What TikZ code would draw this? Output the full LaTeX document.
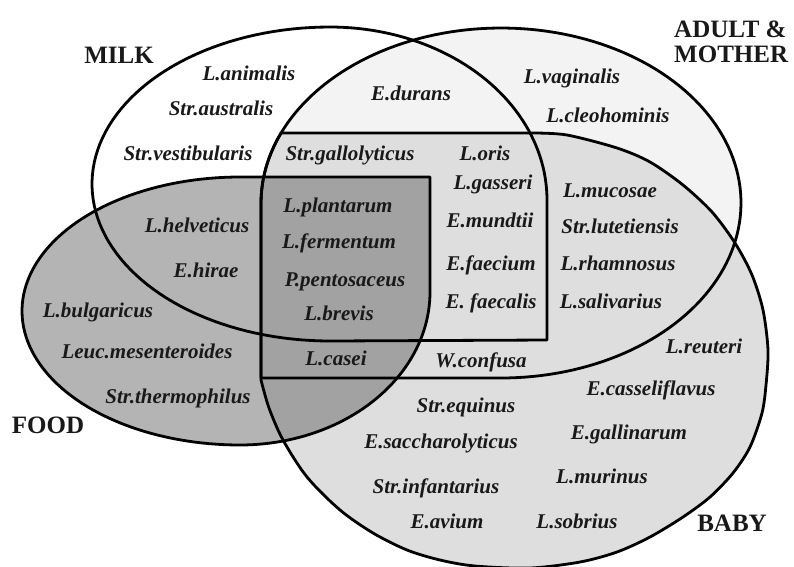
\documentclass[tikz,border=0pt]{standalone}
\usepackage{fontspec}
\setmainfont{Liberation Serif}
\definecolor{adultc}{HTML}{F3F3F3}
\definecolor{babyc}{HTML}{DEDEDE}
\definecolor{foodc}{HTML}{B4B4B4}
\definecolor{darkc}{HTML}{A2A2A2}
\tikzset{
  milkp/.style={insert path={(547,340) -- (330,341)
     -- plot[domain=90:270,samples=80,variable=\t] ({330+238*cos(\t)},{184+157*sin(\t)})
     -- plot[domain=270:360,samples=50,variable=\t] ({330+217*cos(\t)},{200+173*sin(\t)})
     -- cycle}},
  adultp/.style={insert path={(261,378) -- (261,203)
     -- plot[domain=180:450,samples=140,variable=\t] ({501+240*cos(\t)},{203+175*sin(\t)})
     -- cycle}},
  foodp/.style={insert path={(430,177) -- (430,292)
     -- plot[domain=0:90,samples=50,variable=\t] ({240+190*cos(\t)},{292+153*sin(\t)})
     -- plot[domain=90:270,samples=90,variable=\t] ({240+218*cos(\t)},{311+134*sin(\t)})
     -- cycle}},
  babyp/.style={insert path={(261,380) -- (261,203)
     -- plot[domain=180:203.6,samples=12,variable=\t] ({501+240*cos(\t)},{203+175*sin(\t)})
     -- (533,133)
     -- plot[smooth] coordinates {(533,133) (567,135) (617,148) (650,162) (683,185) (712,212)
        (735,243) (752,275) (763,310) (768,350) (766,385) (762,413) (750,447) (733,473)
        (710,497) (683,517) (650,537) (617,552) (580,562) (530,568) (475,566) (440,560)
        (407,550) (373,533) (340,510) (307,477) (283,440) (269,408) (261,380)}
     -- cycle}},
  outline/.style={draw=black, line width=2.8pt, line join=round},
  sp/.style={anchor=base, inner sep=0pt, text=black!90,
     font=\fontsize{21}{24}\selectfont\bfseries\itshape},
  setlab/.style={inner sep=0pt, text=black!90,
     font=\fontsize{25}{28}\selectfont\bfseries},
}
\begin{document}
\begin{tikzpicture}[x=1pt,y=-1pt]
\useasboundingbox (0,0) rectangle (794,566);
\fill[white] (0,0) rectangle (794,566);
\begin{scope}
  \clip (0,0) rectangle (794,566);
  \fill[adultc, adultp];
  \fill[babyc, babyp];
  \fill[foodc, foodp];
  \begin{scope}
    \clip[foodp];
    \fill[darkc, babyp];
  \end{scope}
  \draw[outline, milkp];
  \draw[outline, adultp];
  \draw[outline, foodp];
  \draw[outline, babyp];
\end{scope}

% set labels
\node[setlab, anchor=base] (milk) at (119,63) {MILK};
\node[setlab, anchor=base west] (adult) at (674,37) {ADULT \&};
\node[setlab, anchor=base west] (mother) at (674,62) {MOTHER};
\node[setlab, anchor=base] (food) at (48,433) {FOOD};
\node[setlab, anchor=base] (baby) at (732,531) {BABY};

% species
\node[sp] (lanimalis) at (249,80) {L.animalis};
\node[sp] (straustralis) at (221,115) {Str.australis};
\node[sp] (strvestibularis) at (188,160) {Str.vestibularis};
\node[sp] (edurans) at (411,100) {E.durans};
\node[sp] (strgallolyticus) at (350,160) {Str.gallolyticus};
\node[sp] (loris) at (485,160) {L.oris};
\node[sp] (lgasseri) at (493,189) {L.gasseri};
\node[sp] (emundtii) at (490,227) {E.mundtii};
\node[sp] (efaecium) at (491,270) {E.faecium};
\node[sp] (efaecalis) at (491,308) {E. faecalis};
\node[sp] (lplantarum) at (338,212) {L.plantarum};
\node[sp] (lfermentum) at (339,248) {L.fermentum};
\node[sp] (ppentosaceus) at (345,286) {P.pentosaceus};
\node[sp] (lbrevis) at (339,320) {L.brevis};
\node[sp] (lcasei) at (336,365) {L.casei};
\node[sp] (wconfusa) at (481,367) {W.confusa};
\node[sp] (lhelveticus) at (197,232) {L.helveticus};
\node[sp] (ehirae) at (206,277) {E.hirae};
\node[sp] (lbulgaricus) at (98,317) {L.bulgaricus};
\node[sp] (leuc) at (147,358) {Leuc.mesenteroides};
\node[sp] (strthermo) at (178,403) {Str.thermophilus};
\node[sp] (lvaginalis) at (572,83) {L.vaginalis};
\node[sp] (lcleohominis) at (608,122) {L.cleohominis};
\node[sp] (lmucosae) at (610,197) {L.mucosae};
\node[sp] (strlutetiensis) at (620,233) {Str.lutetiensis};
\node[sp] (lrhamnosus) at (618,270) {L.rhamnosus};
\node[sp] (lsalivarius) at (611,308) {L.salivarius};
\node[sp] (lreuteri) at (704,353) {L.reuteri};
\node[sp] (ecasseliflavus) at (651,395) {E.casseliflavus};
\node[sp] (strequinus) at (466,412) {Str.equinus};
\node[sp] (egallinarum) at (629,439) {E.gallinarum};
\node[sp] (esaccharolyticus) at (441,448) {E.saccharolyticus};
\node[sp] (strinfantarius) at (436,493) {Str.infantarius};
\node[sp] (lmurinus) at (602,483) {L.murinus};
\node[sp] (eavium) at (447,528) {E.avium};
\node[sp] (lsobrius) at (577,528) {L.sobrius};
\end{tikzpicture}
\end{document}
